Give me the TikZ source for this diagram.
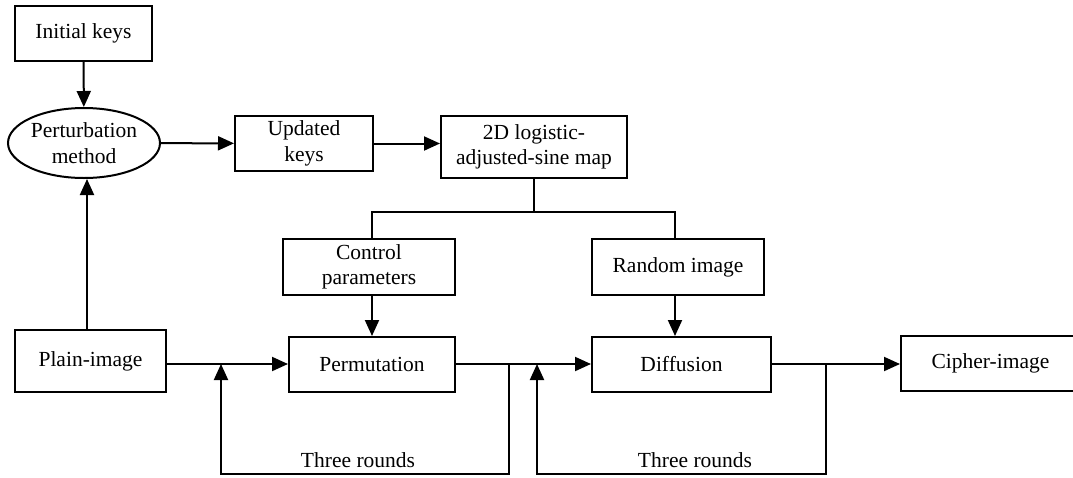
\documentclass[tikz,border=0pt]{standalone}
\usepackage{fontspec}
\setmainfont{Liberation Serif}
\usetikzlibrary{arrows.meta,shapes.geometric}
\begin{document}
\begin{tikzpicture}[x=1pt,y=-1pt,
  line width=2pt,
  box/.style={draw,rectangle,inner sep=0pt,align=center,font=\fontsize{21.5}{25.5}\selectfont},
  oval/.style={draw,ellipse,inner sep=0pt,align=center,font=\fontsize{21.5}{25.5}\selectfont,minimum width=152pt,minimum height=70pt},
  arr/.style={-{Triangle[length=16pt,width=14pt]}},
  lbl/.style={font=\fontsize{21.5}{25.5}\selectfont,anchor=base,inner sep=0pt}]
\useasboundingbox (0,0) rectangle (1073,477);
% nodes
\node[box,minimum width=137pt,minimum height=55pt] (init) at (83.5,33.5) {Initial keys};
\node[oval] (pert) at (84,143) {Perturbation\\method};
\node[box,minimum width=138pt,minimum height=55pt] (upd) at (304,143.5) {Updated\\keys};
\node[box,minimum width=186pt,minimum height=62pt] (map) at (534,147) {2D logistic-\\adjusted-sine map};
\node[box,minimum width=172pt,minimum height=56pt] (ctrl) at (369,267) {Control\\parameters};
\node[box,minimum width=172pt,minimum height=56pt] (rand) at (678,267) {Random image};
\node[box,minimum width=151pt,minimum height=62pt] (plain) at (90.5,361) {Plain-image};
\node[box,minimum width=166pt,minimum height=55pt] (perm) at (372,364.5) {Permutation};
\node[box,minimum width=179pt,minimum height=55pt] (diff) at (681.5,364.5) {Diffusion};
\node[box,minimum width=179pt,minimum height=55pt] (cipher) at (990.5,363.5) {Cipher-image};
\node[lbl] (r1) at (358,467) {Three rounds};
\node[lbl] (r2) at (695,467) {Three rounds};
% helper coordinates
\coordinate (upx) at (87,0);
\coordinate (cx) at (372,0);
\coordinate (rx) at (675,0);
\coordinate (br) at (534,212);
\coordinate (ly) at (0,364);
\coordinate (j1) at (509,364);
\coordinate (b1r) at (509,474);
\coordinate (b1l) at (221,474);
\coordinate (t1) at (221,364);
\coordinate (j2) at (826,364);
\coordinate (b2r) at (826,474);
\coordinate (b2l) at (537,474);
\coordinate (t2) at (537,364);
% connectors
\draw[arr] (init) -- (pert);
\draw[arr] (plain.north -| upx) -- (pert.south -| upx);
\draw[arr] (pert) -- (upd);
\draw[arr] (upd.east) -- (map.west |- upd.east);
\draw (map.south) -- (br);
\draw (ctrl.north -| cx) -- (br -| cx) -- (br -| rx) -- (rand.north -| rx);
\draw[arr] (ctrl.south -| cx) -- (perm.north -| cx);
\draw[arr] (rand.south -| rx) -- (diff.north -| rx);
\draw[arr] (plain.east |- ly) -- (perm.west |- ly);
\draw[arr] (perm.east |- ly) -- (diff.west |- ly);
\draw[arr] (diff.east |- ly) -- (cipher.west |- ly);
\draw[arr] (j1) -- (b1r) -- (b1l) -- (t1);
\draw[arr] (j2) -- (b2r) -- (b2l) -- (t2);
\end{tikzpicture}
\end{document}
